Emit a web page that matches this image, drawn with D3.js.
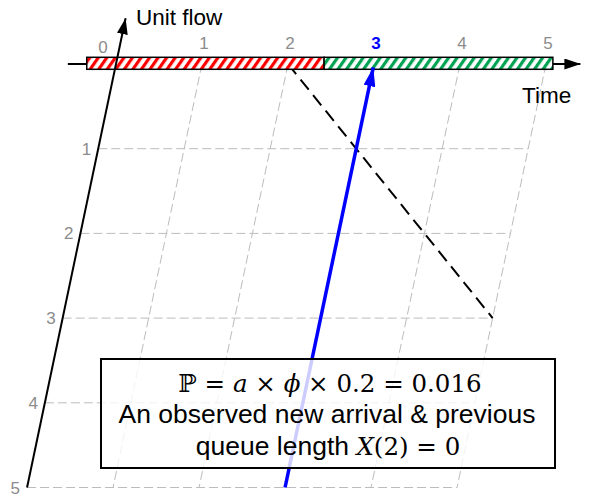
<!DOCTYPE html>
<html>
<head>
<meta charset="utf-8">
<script src="https://cdn.jsdelivr.net/npm/d3@7"></script>
<style>
  html, body { margin: 0; padding: 0; background: #fff; }
  svg { display: block; }
</style>
</head>
<body>
<svg id="chart" width="589" height="496"></svg>
<script>
// Time ticks along the top axis and unit-flow ticks down the slanted axis
const timeTicks = [0, 1, 2, 3, 4, 5];
const flowTicks = [1, 2, 3, 4, 5];

// Service phases drawn as hatched bar on the time axis (start, end in time units)
const phaseNames = ["busy", "idle"];
const phaseStart = [-0.34, 2.42];
const phaseEnd = [2.42, 5.08];

// Observed new arrival (time) and its unit-flow span
const arrivalTime = 3;
const arrivalFlow = [5, 0.04];

// Queue depletion path: [time, unit flow]
const queuePath = [[2, 0], [5, 3]];

// Annotation text
const mathLine = [
  { t: "ℙ", it: false }, { t: " = ", it: false }, { t: "a", it: true },
  { t: " × ", it: false }, { t: "ϕ", it: true }, { t: " × 0.2 = 0.016", it: false }
];
const textLine2 = "An observed new arrival & previous";
const textLine3 = [
  { t: "queue length ", it: false, sans: true }, { t: "X", it: true },
  { t: "(2) = 0", it: false }
];

const svg = d3.select("#chart");
const sans = "'Liberation Sans', Arial, sans-serif";
const serif = "'DejaVu Serif', serif";

// Skewed coordinate frame: time runs right, unit flow runs down-left
const xT = d3.scaleLinear().domain([0, 5]).range([116, 546]);
const yU = d3.scaleLinear().domain([0, 5]).range([64, 487.5]);
const skew = 0.21;
const px = (t, u) => xT(t) - (yU(u) - yU(0)) * skew;
const py = (t, u) => yU(u);
const line = d3.line().x(d => px(d[0], d[1])).y(d => py(d[0], d[1]));

const defs = svg.append("defs");
function hatch(id, color) {
  const p = defs.append("pattern")
    .attr("id", id).attr("patternUnits", "userSpaceOnUse")
    .attr("width", 7).attr("height", 7)
    .attr("patternTransform", "rotate(35)");
  p.append("rect").attr("width", 7).attr("height", 7).attr("fill", "#fff");
  p.append("rect").attr("x", 0).attr("width", 3.2).attr("height", 7).attr("fill", color);
}
hatch("hatch-busy", "#ff0000");
hatch("hatch-idle", "#00a352");
const phaseFill = d3.scaleOrdinal().domain(phaseNames).range(["url(#hatch-busy)", "url(#hatch-idle)"]);

function arrowHead(id, color, w, h) {
  defs.append("marker")
    .attr("id", id).attr("viewBox", `0 0 ${h} ${w}`)
    .attr("refX", h).attr("refY", w / 2)
    .attr("markerWidth", h).attr("markerHeight", w)
    .attr("markerUnits", "userSpaceOnUse").attr("orient", "auto")
    .append("path").attr("d", `M0,0L${h},${w / 2}L0,${w}Z`).attr("fill", color);
}
arrowHead("arr-black", "#000", 11, 16);
arrowHead("arr-blue", "#0000ff", 12, 19);

// Grid: horizontal rows per unit flow, slanted columns per time tick
const grid = svg.append("g").attr("stroke", "#bcbcbc").attr("stroke-width", 1)
  .attr("stroke-dasharray", "9,4").attr("fill", "none");
grid.selectAll(".row").data(flowTicks).join("path").attr("class", "row")
  .attr("d", u => line([[0, u], [5, u]]));
grid.selectAll(".col").data(timeTicks.filter(t => t > 0 && t !== arrivalTime)).join("path").attr("class", "col")
  .attr("d", t => line([[t, 0], [t, 5]]));

// Time axis with arrow
svg.append("line")
  .attr("x1", xT(-0.56)).attr("x2", xT(5.4)).attr("y1", yU(0)).attr("y2", yU(0))
  .attr("stroke", "#000").attr("stroke-width", 2).attr("marker-end", "url(#arr-black)");

// Queue depletion line
svg.append("path").attr("d", line(queuePath))
  .attr("stroke", "#000").attr("stroke-width", 2).attr("stroke-dasharray", "13,7")
  .attr("fill", "none");

// Hatched phase bar
const barH = 12;
svg.selectAll(".phase").data(phaseNames).join("rect").attr("class", "phase")
  .attr("x", (d, i) => xT(phaseStart[i])).attr("width", (d, i) => xT(phaseEnd[i]) - xT(phaseStart[i]))
  .attr("y", yU(0) - barH / 2 - 0.7).attr("height", barH)
  .attr("fill", d => phaseFill(d)).attr("stroke", "#000").attr("stroke-width", 1.5);

// Arrival arrow
svg.append("path").attr("d", line([[arrivalTime, arrivalFlow[0]], [arrivalTime, arrivalFlow[1]]]))
  .attr("stroke", "#0000ff").attr("stroke-width", 3.5).attr("fill", "none")
  .attr("marker-end", "url(#arr-blue)");

// Unit flow axis with arrow
svg.append("path").attr("d", line([[0, 5], [0, -0.54]]))
  .attr("stroke", "#000").attr("stroke-width", 2).attr("fill", "none")
  .attr("marker-end", "url(#arr-black)");

// Time tick labels
svg.selectAll(".tlab").data(timeTicks).join("text").attr("class", "tlab")
  .attr("x", t => t === 0 ? px(t, 0) - 13 : px(t, 0) + 2)
  .attr("y", t => t === 0 ? 53 : 49)
  .attr("text-anchor", "middle")
  .attr("font-family", sans).attr("font-size", 17)
  .attr("font-weight", t => t === arrivalTime ? "bold" : "normal")
  .attr("fill", t => t === arrivalTime ? "#0000ff" : "#8c8c8c")
  .text(t => t);

// Unit flow tick labels
svg.selectAll(".ulab").data(flowTicks).join("text").attr("class", "ulab")
  .attr("x", u => px(0, u) - 7).attr("y", u => py(0, u) + 6)
  .attr("text-anchor", "end")
  .attr("font-family", sans).attr("font-size", 17).attr("fill", "#8c8c8c")
  .text(u => u);

// Axis titles
svg.append("text").attr("x", 136).attr("y", 25)
  .attr("font-family", sans).attr("font-size", 22.5).attr("fill", "#000").text("Unit flow");
svg.append("text").attr("x", 522).attr("y", 103)
  .attr("font-family", sans).attr("font-size", 22.5).attr("fill", "#000").text("Time");

// Annotation box
const box = { x: 101, y: 359, w: 454, h: 109 };
svg.append("rect").attr("x", box.x).attr("y", box.y).attr("width", box.w).attr("height", box.h)
  .attr("fill", "#fff").attr("fill-opacity", 0.8).attr("stroke", "#000").attr("stroke-width", 2);
const cx = box.x + box.w / 2;

const t1 = svg.append("text").attr("x", cx + 2).attr("y", 392).attr("text-anchor", "middle")
  .attr("font-family", serif).attr("font-size", 24.5).attr("fill", "#000");
t1.selectAll("tspan").data(mathLine).join("tspan")
  .attr("font-style", d => d.it ? "italic" : "normal")
  .text(d => d.t);

svg.append("text").attr("x", cx - 1).attr("y", 423).attr("text-anchor", "middle")
  .attr("font-family", sans).attr("font-size", 26.5).attr("fill", "#000").text(textLine2);

const t3 = svg.append("text").attr("x", cx).attr("y", 455).attr("text-anchor", "middle")
  .attr("fill", "#000");
t3.selectAll("tspan").data(textLine3).join("tspan")
  .attr("font-family", d => d.sans ? sans : serif)
  .attr("font-size", d => d.sans ? 26.5 : 24.5)
  .attr("font-style", d => d.it ? "italic" : "normal")
  .text(d => d.t);
</script>
</body>
</html>
